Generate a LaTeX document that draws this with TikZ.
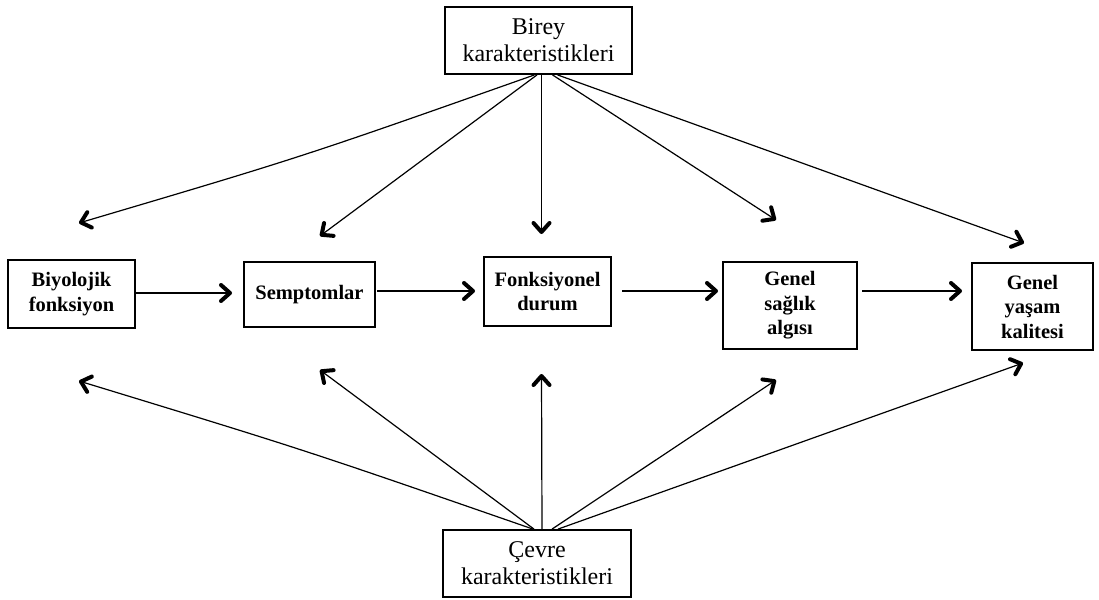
\documentclass[tikz,border=0pt]{standalone}
\usepackage{fontspec}
\setmainfont{Liberation Serif}
\usetikzlibrary{arrows.meta}
\tikzset{
  bigbox/.style={draw, line width=1.8pt, inner sep=0pt, align=center, font=\fontsize{24}{27}\selectfont},
  midbox/.style={draw, line width=1.8pt, inner sep=0pt, align=center, font=\bfseries\fontsize{20.5}{24.5}\selectfont},
  conn/.style={line width=1.2pt, arrows={-Straight Barb[length=9pt, width=16pt, line width=4pt 0 0, round=false]}}
}
\begin{document}
\begin{tikzpicture}[x=1pt,y=-1pt]
\useasboundingbox (0,0) rectangle (1099,599);
% boxes
\node[bigbox, minimum width=187pt, minimum height=67pt] (top) at (538.5,40.5) {Birey\\karakteristikleri};
\node[bigbox, minimum width=188pt, minimum height=67pt] (bot) at (537,563.5) {Çevre\\karakteristikleri};
\node[midbox, minimum width=127pt, minimum height=68pt] (b1) at (71.5,294) {Biyolojik\\fonksiyon};
\node[midbox, minimum width=131pt, minimum height=65pt] (b2) at (309.5,294.5) {Semptomlar};
\node[midbox, minimum width=127pt, minimum height=69pt] (b3) at (547.5,291.5) {Fonksiyonel\\durum};
\node[midbox, minimum width=134pt, minimum height=87pt] (b4) at (790,305.5) {Genel\\sağlık\\algısı};
\node[midbox, minimum width=121pt, minimum height=87pt] (b5) at (1032.5,306.5) {Genel\\yaşam\\kalitesi};
% free ends of horizontal arrows
\coordinate (h1) at (232,293);
\coordinate (h2s) at (377,291);
\coordinate (h2) at (475,291);
\coordinate (h3s) at (622,291);
\coordinate (h3) at (718,291);
\coordinate (h4s) at (862,291);
\coordinate (h4) at (962,291);
\draw[conn] (b1.east |- h1) -- (h1);
\draw[conn] (h2s) -- (h2);
\draw[conn] (h3s) -- (h3);
\draw[conn] (h4s) -- (h4);
% top starts and ends
\coordinate (ts1) at ([xshift=-4pt]top.south);
\coordinate (ts2) at ([xshift=-1.5pt]top.south);
\coordinate (ts3) at ([xshift=3pt]top.south);
\coordinate (ts4) at ([xshift=14pt]top.south);
\coordinate (ts5) at ([xshift=19pt]top.south);
\coordinate (te1) at (79,223);
\coordinate (te2) at (320,236);
\coordinate (te3) at (541.5,234);
\coordinate (te4) at (776,220);
\coordinate (te5) at (1024,243);
\draw[conn] (ts1) .. controls (302,157) .. (te1);
\draw[conn] (ts2) -- (te2);
\draw[conn] (ts3) -- (te3);
\draw[conn] (ts4) -- (te4);
\draw[conn] (ts5) -- (te5);
% bottom starts and ends
\coordinate (bs1) at ([xshift=-4pt]bot.north);
\coordinate (bs2) at ([xshift=-3pt]bot.north);
\coordinate (bs3) at ([xshift=5pt]bot.north);
\coordinate (bs4) at ([xshift=15pt]bot.north);
\coordinate (bs5) at ([xshift=21pt]bot.north);
\coordinate (be1) at (79,381);
\coordinate (be2) at (320,370);
\coordinate (be3) at (541.5,374);
\coordinate (be4) at (776,380);
\coordinate (be5) at (1023,363);
\draw[conn] (bs1) .. controls (305,450) .. (be1);
\draw[conn] (bs2) -- (be2);
\draw[conn] (bs3) -- (be3);
\draw[conn] (bs4) -- (be4);
\draw[conn] (bs5) -- (be5);
\end{tikzpicture}
\end{document}
